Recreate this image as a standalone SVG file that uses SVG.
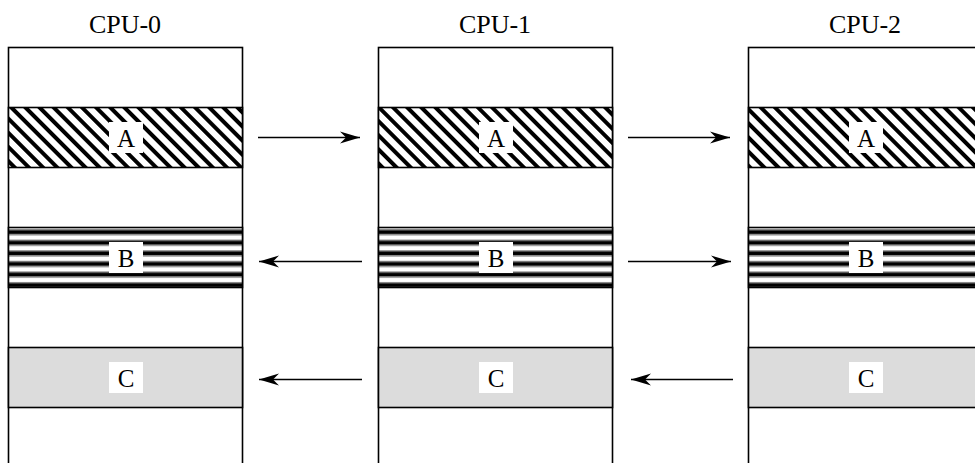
<svg xmlns="http://www.w3.org/2000/svg" width="975" height="463" viewBox="0 0 975 463">
<style>
.col{fill:#fff;stroke:#000;stroke-width:1.6}
.band{stroke:#000;stroke-width:1.6}
.box{fill:#fff}
.lbl{font-family:"Liberation Serif",serif;font-size:25px;fill:#000;text-anchor:middle}
.ttl{font-family:"Liberation Serif",serif;font-size:26px;fill:#000;text-anchor:middle}
.arr{stroke:#000;stroke-width:1.6;fill:none;marker-end:url(#ah)}
</style>
<defs>
<pattern id="diag" patternUnits="userSpaceOnUse" width="10" height="10" patternTransform="rotate(-45)">
<rect width="10" height="10" fill="#fff"/>
<rect width="4" height="10" fill="#000"/>
</pattern>
<pattern id="horiz" patternUnits="userSpaceOnUse" width="10" height="10.6" y="227">
<rect width="10" height="10.6" fill="#fff"/>
<rect y="2" width="10" height="1.2" fill="#888"/>
<rect y="3.2" width="10" height="4" fill="#000"/>
<rect y="7.2" width="10" height="1.2" fill="#888"/>
</pattern>
<marker id="ah" markerWidth="22" markerHeight="14" refX="20" refY="7" orient="auto" markerUnits="userSpaceOnUse">
<path d="M0,1 L20,7 L0,13 L6,7 Z" fill="#000"/>
</marker>
</defs>
<text class="ttl" x="125" y="33">CPU-0</text>
<text class="ttl" x="495" y="33">CPU-1</text>
<text class="ttl" x="865" y="33">CPU-2</text>
<g id="cpu0">
<rect class="col" x="8.5" y="47.5" width="234" height="430"/>
<rect class="band" x="8.5" y="107.5" width="234" height="60" fill="url(#diag)"/>
<rect class="band" x="8.5" y="227.5" width="234" height="60" fill="url(#horiz)"/>
<rect class="band" x="8.5" y="347.5" width="234" height="60" fill="#dcdcdc"/>
<rect class="box" x="109" y="122" width="34" height="31"/>
<text class="lbl" x="126" y="147">A</text>
<rect class="box" x="109" y="242" width="34" height="31"/>
<text class="lbl" x="126" y="267">B</text>
<rect class="box" x="109" y="362" width="34" height="31"/>
<text class="lbl" x="126" y="387">C</text>
</g>
<g id="cpu1">
<rect class="col" x="378.5" y="47.5" width="234" height="430"/>
<rect class="band" x="378.5" y="107.5" width="234" height="60" fill="url(#diag)"/>
<rect class="band" x="378.5" y="227.5" width="234" height="60" fill="url(#horiz)"/>
<rect class="band" x="378.5" y="347.5" width="234" height="60" fill="#dcdcdc"/>
<rect class="box" x="479" y="122" width="34" height="31"/>
<text class="lbl" x="496" y="147">A</text>
<rect class="box" x="479" y="242" width="34" height="31"/>
<text class="lbl" x="496" y="267">B</text>
<rect class="box" x="479" y="362" width="34" height="31"/>
<text class="lbl" x="496" y="387">C</text>
</g>
<g id="cpu2">
<rect class="col" x="748.5" y="47.5" width="234" height="430"/>
<rect class="band" x="748.5" y="107.5" width="234" height="60" fill="url(#diag)"/>
<rect class="band" x="748.5" y="227.5" width="234" height="60" fill="url(#horiz)"/>
<rect class="band" x="748.5" y="347.5" width="234" height="60" fill="#dcdcdc"/>
<rect class="box" x="849" y="122" width="34" height="31"/>
<text class="lbl" x="866" y="147">A</text>
<rect class="box" x="849" y="242" width="34" height="31"/>
<text class="lbl" x="866" y="267">B</text>
<rect class="box" x="849" y="362" width="34" height="31"/>
<text class="lbl" x="866" y="387">C</text>
</g>
<g id="connectors">
<line class="arr" x1="258" y1="137.5" x2="360" y2="137.5"/>
<line class="arr" x1="628" y1="137.5" x2="730" y2="137.5"/>
<line class="arr" x1="362" y1="261.5" x2="259" y2="261.5"/>
<line class="arr" x1="628" y1="261.5" x2="731" y2="261.5"/>
<line class="arr" x1="362" y1="379.5" x2="259" y2="379.5"/>
<line class="arr" x1="733" y1="379.5" x2="631" y2="379.5"/>
</g>
</svg>
